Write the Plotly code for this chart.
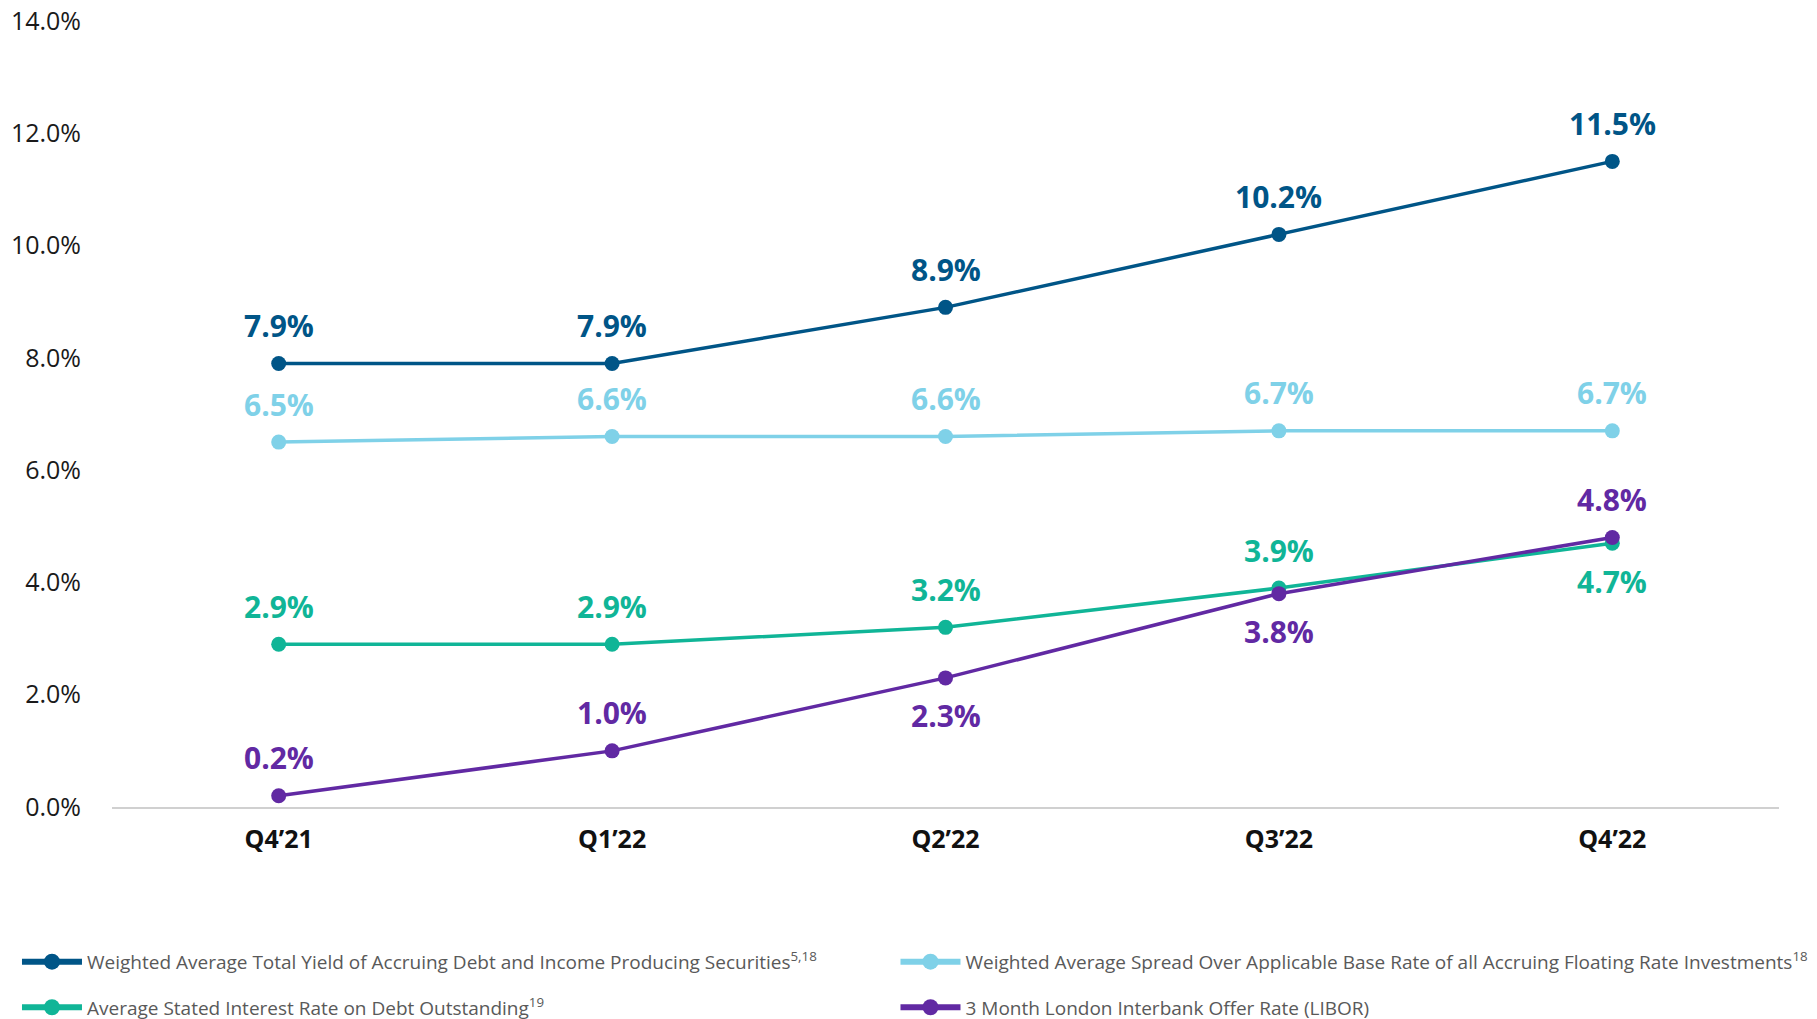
import plotly.graph_objects as go

quarters = ["Q4’21", "Q1’22", "Q2’22", "Q3’22", "Q4’22"]
total_yield = [7.9, 7.9, 8.9, 10.2, 11.5]
base_spread = [6.5, 6.6, 6.6, 6.7, 6.7]
stated_rate = [2.9, 2.9, 3.2, 3.9, 4.7]
libor = [0.2, 1.0, 2.3, 3.8, 4.8]

# +1 puts the value label above the point, -1 below
total_yield_side = [1, 1, 1, 1, 1]
base_spread_side = [1, 1, 1, 1, 1]
stated_rate_side = [1, 1, 1, 1, -1]
libor_side = [1, 1, -1, -1, 1]

series = [
    dict(name="Weighted Average Total Yield of Accruing Debt and Income Producing Securities<sup>5,18</sup>",
         values=total_yield, side=total_yield_side, color="#005587", legend="legend"),
    dict(name="Weighted Average Spread Over Applicable Base Rate of all Accruing Floating Rate Investments<sup>18</sup>",
         values=base_spread, side=base_spread_side, color="#7fd1e8", legend="legend2"),
    dict(name="Average Stated Interest Rate on Debt Outstanding<sup>19</sup>",
         values=stated_rate, side=stated_rate_side, color="#10b597", legend="legend3"),
    dict(name="3 Month London Interbank Offer Rate (LIBOR)",
         values=libor, side=libor_side, color="#6129a3", legend="legend4"),
]

fig = go.Figure()
annotations = []
for s in series:
    fig.add_trace(go.Scatter(
        x=quarters,
        y=s["values"],
        name=s["name"],
        mode="lines+markers",
        line=dict(color=s["color"], width=3.5),
        marker=dict(color=s["color"], size=15),
        showlegend=False,
    ))
    # legend key is drawn heavier than the plotted line
    fig.add_trace(go.Scatter(
        x=[None],
        y=[None],
        name=s["name"],
        mode="lines+markers",
        line=dict(color=s["color"], width=6),
        marker=dict(color=s["color"], size=19),
        legend=s["legend"],
    ))
    for q, v, side in zip(quarters, s["values"], s["side"]):
        annotations.append(dict(
            x=q, y=v, xref="x", yref="y",
            text=f"{v:.1f}%",
            showarrow=False,
            yanchor="middle",
            yshift=38 * side,
            font=dict(family="Open Sans", size=30, color=s["color"], weight="bold"),
        ))

legend_style = dict(
    orientation="h",
    xanchor="left",
    yanchor="middle",
    itemwidth=60,
    font=dict(family="Open Sans", size=19, color="#595959"),
    bgcolor="rgba(0,0,0,0)",
)
col_x = [-0.057, 0.470]
row_y = [-0.197, -0.255]

fig.update_layout(
    width=1809,
    height=1011,
    margin=dict(l=104, r=38, t=13, b=212, autoexpand=False),
    plot_bgcolor="white",
    paper_bgcolor="white",
    annotations=annotations,
    legend=dict(legend_style, x=col_x[0], y=row_y[0]),
    legend2=dict(legend_style, x=col_x[1], y=row_y[0]),
    legend3=dict(legend_style, x=col_x[0], y=row_y[1]),
    legend4=dict(legend_style, x=col_x[1], y=row_y[1]),
    xaxis=dict(
        type="category",
        range=[-0.5, 4.5],
        showgrid=False,
        showline=True,
        linecolor="#d0d0d0",
        linewidth=2,
        ticks="",
        ticklabelstandoff=9,
        tickfont=dict(family="Open Sans", size=25, color="#111111", weight="bold"),
    ),
    yaxis=dict(
        range=[0, 14.001],
        tickmode="linear",
        tick0=0,
        dtick=2,
        tickformat=".1f",
        ticksuffix="%",
        showgrid=False,
        zeroline=False,
        ticklabeloverflow="allow",
        ticklabelstandoff=30,
        tickfont=dict(family="Open Sans", size=25, color="#1a1a1a"),
    ),
)

fig.write_html("out.html")
